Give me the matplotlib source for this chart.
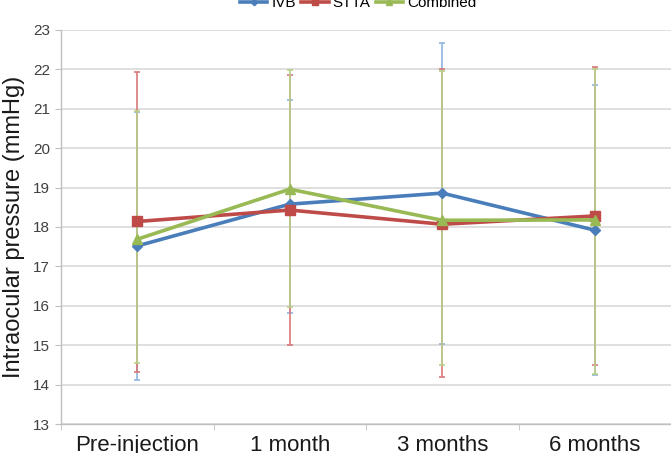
import matplotlib
matplotlib.use("Agg")
import matplotlib.pyplot as plt
import numpy as np

categories = ["Pre-injection", "1 month", "3 months", "6 months"]

ivb_mean = [17.52, 18.58, 18.86, 17.92]
ivb_upper = [20.93, 21.22, 22.66, 21.60]
ivb_lower = [14.11, 15.82, 15.02, 14.24]

stta_mean = [18.14, 18.43, 18.07, 18.28]
stta_upper = [21.94, 21.86, 22.00, 22.05]
stta_lower = [14.33, 15.00, 14.20, 14.50]

comb_mean = [17.69, 18.96, 18.17, 18.18]
comb_upper = [20.94, 21.98, 21.95, 22.02]
comb_lower = [14.56, 15.96, 14.50, 14.28]

y_ticks = list(range(13, 24))

plt.rcParams['font.family'] = ['Liberation Sans', 'DejaVu Sans']

fig = plt.figure(figsize=(6.71, 4.53), dpi=100)
ax = fig.add_axes([61/671, 1-424/453, 1-61/671, (424-30)/453])

x = np.arange(len(categories))

series = [
    ("IVB", ivb_mean, ivb_upper, ivb_lower, "#4a7ebb", "#8fb4e0", "D", 5.5),
    ("STTA", stta_mean, stta_upper, stta_lower, "#be4b48", "#d9797a", "s", 7),
    ("Combined", comb_mean, comb_upper, comb_lower, "#98b954", "#b9d08a", "^", 6.5),
]

handles = []
for i, (name, m, up, lo, col, ecol, mk, ms) in enumerate(series):
    m = np.array(m); up = np.array(up); lo = np.array(lo)
    ax.errorbar(x, m, yerr=[m - lo, up - m], fmt='none', ecolor=ecol,
                elinewidth=1.2, capsize=2.5, capthick=1.2, zorder=2 + i)
for i, (name, m, up, lo, col, ecol, mk, ms) in enumerate(series):
    h, = ax.plot(x, m, color=col, lw=2.6, marker=mk, markersize=ms,
                 markeredgecolor=col, markerfacecolor=col, zorder=6 + i, label=name)
    handles.append(h)

ax.set_xlim(-0.5, 3.5)
ax.set_ylim(13, 23)
ax.set_yticks(y_ticks)
ax.set_yticklabels([str(t) for t in y_ticks], fontsize=11, color="#404040")
ax.yaxis.grid(True, color="#d9d9d9", lw=1.2, zorder=0)
ax.set_axisbelow(True)

ax.set_xticks(x)
ax.set_xticklabels(categories, fontsize=16, color="#1a1a1a")
ax.set_xticks(np.arange(-0.5, 4.0, 1.0), minor=True)
ax.tick_params(axis='x', which='major', length=0, pad=8)
ax.tick_params(axis='x', which='minor', length=4, color="#bfbfbf")
ax.tick_params(axis='y', length=4, color="#bfbfbf", pad=4)

for s in ["top", "right"]:
    ax.spines[s].set_visible(False)
for s in ["left", "bottom"]:
    ax.spines[s].set_color("#bfbfbf")
    ax.spines[s].set_linewidth(1.0)

ax.set_ylabel("Intraocular pressure (mmHg)", fontsize=17, color="#1a1a1a", labelpad=6)

fig.legend(handles=handles, loc='center', bbox_to_anchor=(358/671, 1 - 3/453),
           ncol=3, frameon=False, fontsize=11, handlelength=1.8, columnspacing=0.35,
           handletextpad=0.25, markerscale=0.6, borderpad=0)

fig.savefig("out.png", dpi=100)
